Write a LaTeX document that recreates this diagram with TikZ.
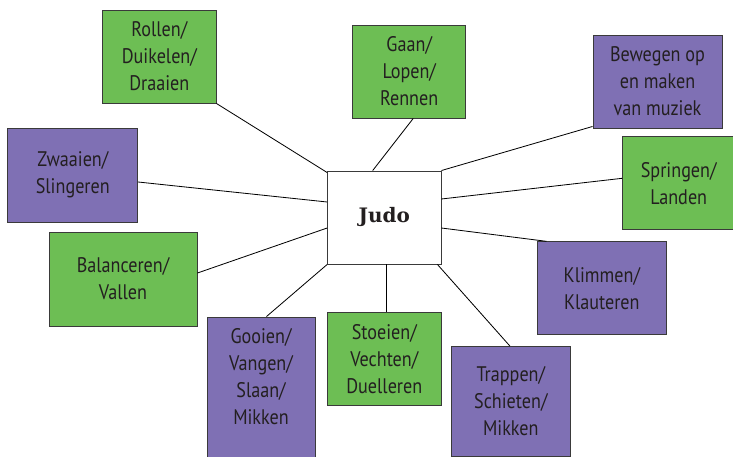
\documentclass[tikz,border=0pt]{standalone}
\usepackage{fontspec}
\setmainfont{PT Sans}[FakeStretch=0.86]
\newfontfamily\judofont{DejaVu Serif}
\usetikzlibrary{calc}

\definecolor{boxgreen}{RGB}{109,190,84}
\definecolor{boxpurple}{RGB}{127,112,180}
\definecolor{boxline}{RGB}{58,58,58}
\definecolor{boxtext}{RGB}{35,31,32}

\begin{document}
\begin{tikzpicture}[x=0.03cm,y=-0.03cm,
  movebox/.style={draw=boxline,line width=0.8pt,rectangle,align=center,text=boxtext,
    font=\fontsize{18}{23}\selectfont,minimum height=2.79cm},
  greenbox/.style={movebox,fill=boxgreen},
  purplebox/.style={movebox,fill=boxpurple},
  link/.style={line width=0.7pt,black}]
\useasboundingbox (0,0) rectangle (733,457);

\draw node [draw=boxline,line width=0.8pt,rectangle,fill=white,minimum width=3.40cm,minimum height=2.79cm,font=\judofont\bfseries\fontsize{17}{20}\selectfont,text=boxtext](judo) at (384.3,217.5){Judo};

\draw node [greenbox,minimum width=3.40cm](rollen) at (159.3,56.5){Rollen/\\Duikelen/\\Draaien};
\draw node [greenbox,minimum width=3.39cm](gaan) at (409.2,71.5){Gaan/\\Lopen/\\Rennen};
\draw node [purplebox,minimum width=3.87cm](bewegen) at (657.5,81.5){Bewegen op\\en maken\\van muziek};
\draw node [purplebox,minimum width=3.89cm,minimum height=2.82cm](zwaaien) at (72.8,175){Zwaaien/\\Slingeren};
\draw node [greenbox,minimum width=3.36cm](springen) at (678.7,183.3){Springen/\\Landen};
\draw node [greenbox,minimum width=4.44cm,minimum height=2.82cm](balanceren) at (123,279){Balanceren/\\Vallen};
\draw node [purplebox,minimum width=3.89cm](klimmen) at (601.8,288.3){Klimmen/\\Klauteren};
\draw node [purplebox,minimum width=3.24cm,minimum height=4.29cm,
  label={[align=center,anchor=north,text=boxtext,font=\fontsize{18}{23}\selectfont,yshift=-6.5pt]north:Gooien/\\Vangen/\\Slaan/\\Mikken}](gooien) at (261,388.5){};
\draw node [greenbox,minimum width=3.40cm](stoeien) at (384.3,359.2){Stoeien/\\Vechten/\\Duelleren};
\draw node [purplebox,minimum width=3.58cm,minimum height=3.28cm](trappen) at (510.8,401.3){Trappen/\\Schieten/\\Mikken};

\draw[link] (rollen.south east) -- ($ (judo.north west)+(0,2) $);
\draw[link] ($ (gaan.south)+(4,0) $) -- ($ (judo.north)+(-11.6,0) $);
\draw[link] ($ (bewegen.south west)+(0,-2) $) -- (judo.north east);
\draw[link] ($ (zwaaien.east)+(0,7) $) -- ($ (judo.west)+(0,-15.5) $);
\draw[link] ($ (springen.west)+(0,-5) $) -- ($ (judo.east)+(0,-18.5) $);
\draw[link] ($ (balanceren.east)+(0,-6) $) -- ($ (judo.west)+(0,10.5) $);
\draw[link] ($ (judo.east)+(0,10.5) $) -- ($ (klimmen.north west)+(10,0) $);
\draw[link] ($ (gooien.north)+(5.5,0) $) -- (judo.south west);
\draw[link] ($ (judo.south)+(2.4,0) $) -- ($ (stoeien.north)+(2.4,0) $);
\draw[link] ($ (judo.south east)+(-4,0) $) -- ($ (trappen.north)+(-0.8,0) $);

\end{tikzpicture}
\end{document}
